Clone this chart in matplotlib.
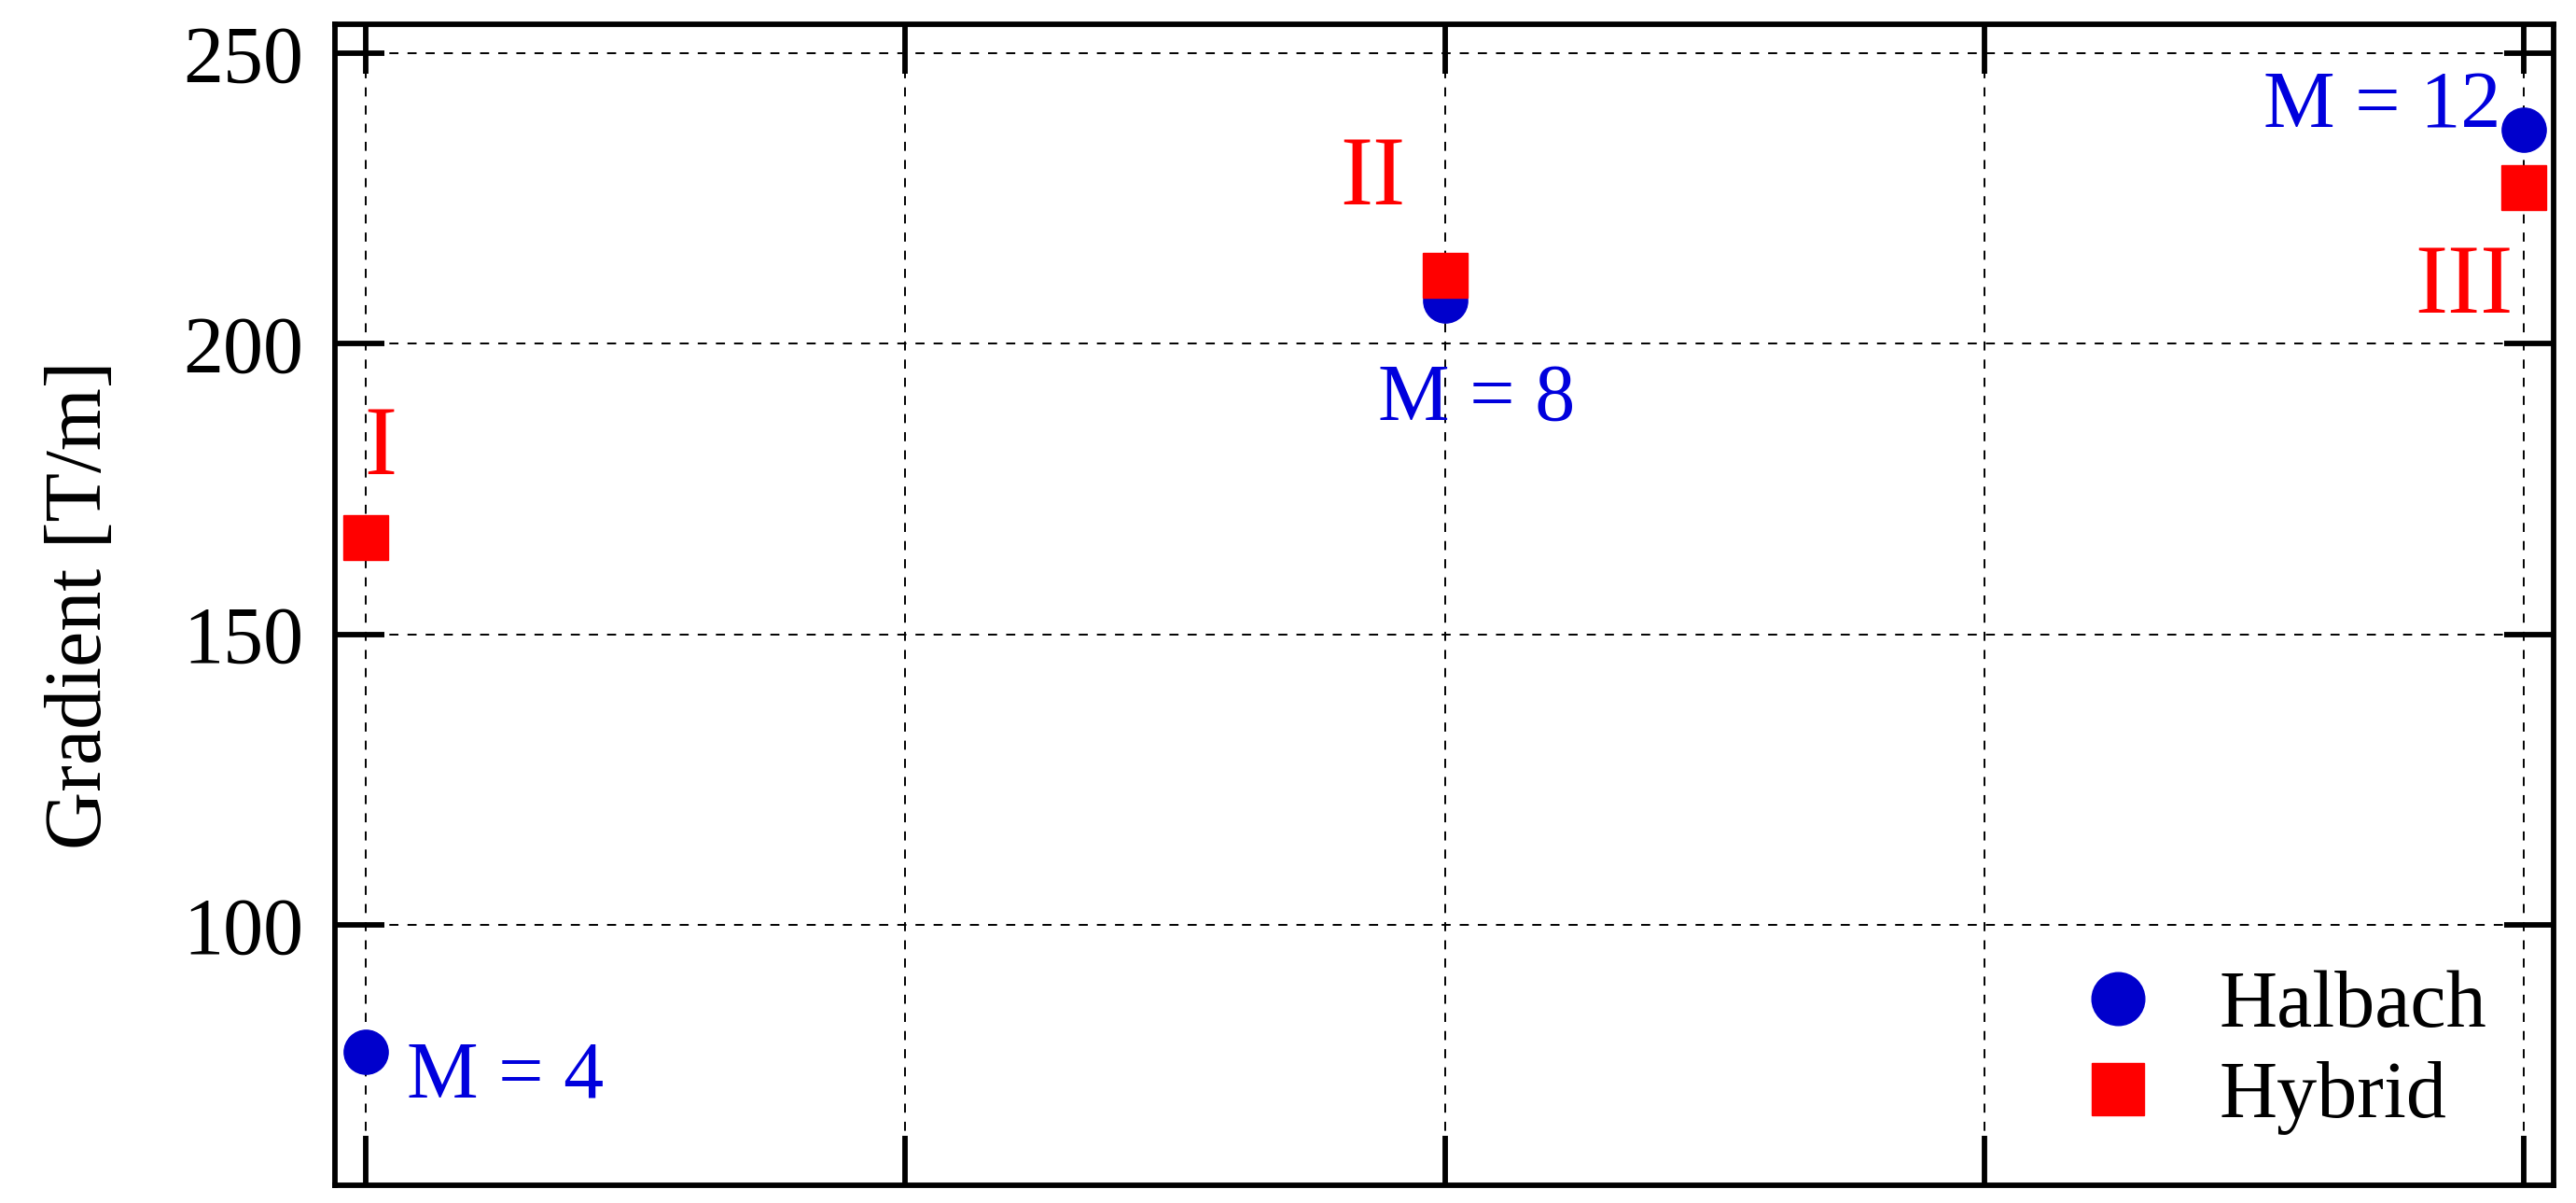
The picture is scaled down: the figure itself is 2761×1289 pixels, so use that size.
import matplotlib
matplotlib.use('Agg')
import matplotlib.pyplot as plt

# number of magnets
m_values = [4, 8, 12]
halbach = [78.2, 207.4, 236.8]
hybrid = [166.7, 211.8, 226.9]

x_ticks = [4, 6, 8, 10, 12]
y_ticks = [100, 150, 200, 250]

# labels next to the points
m_labels = ['M = 4', 'M = 8', 'M = 12']
roman_labels = ['I', 'II', 'III']

plt.rcParams['font.family'] = ['Liberation Serif', 'DejaVu Serif']

fig = plt.figure(figsize=(27.61, 12.89), dpi=100)
ax = fig.add_axes([359 / 2761, 1 - 1270 / 1289, (2737 - 359) / 2761, (1270 - 26) / 1289])

blue = '#0000CC'
red = '#FF0000'

ax.plot(m_values, halbach, linestyle='none', marker='o', markersize=34,
        color=blue, label='Halbach', zorder=3)
ax.plot(m_values, hybrid, linestyle='none', marker='s', markersize=34,
        color=red, label='Hybrid', zorder=4)

# M = ... annotations (blue)
ax.text(4.152, 70.45, m_labels[0], color='#0000DD', fontsize=62, ha='left', va='baseline')
ax.text(8.117, 187.0, m_labels[1], color='#0000DD', fontsize=62, ha='center', va='baseline')
ax.text(11.913, 237.2, m_labels[2], color='#0000DD', fontsize=62, ha='right', va='baseline')

# roman numerals (red)
ax.text(3.995, 177.6, roman_labels[0], color=red, fontsize=76, ha='left', va='baseline')
ax.text(7.855, 224.0, roman_labels[1], color=red, fontsize=76, ha='right', va='baseline')
ax.text(11.96, 205.4, roman_labels[2], color=red, fontsize=76, ha='right', va='baseline')

ax.set_xlim(3.886, 12.11)
ax.set_ylim(55.2, 255.0)
ax.set_xticks(x_ticks)
ax.set_yticks(y_ticks)
ax.tick_params(axis='both', which='major', direction='in', length=38, width=4.2,
               top=True, right=True, labelsize=62, pad=24, labelbottom=False)
ax.minorticks_off()

ax.grid(True, color='black', linestyle=(0, (5, 5)), linewidth=1.4)
ax.set_axisbelow(True)

for s in ax.spines.values():
    s.set_linewidth(4.2)

ax.set_ylabel('Gradient [T/m]', fontsize=62, labelpad=50)

ax.legend(loc='lower right', bbox_to_anchor=(0.995, -0.005), frameon=False, fontsize=62,
          handlelength=1.0, handletextpad=0.75, labelspacing=0.2, borderpad=0.2,
          markerscale=1.2)

fig.savefig('out.png', dpi=100)
